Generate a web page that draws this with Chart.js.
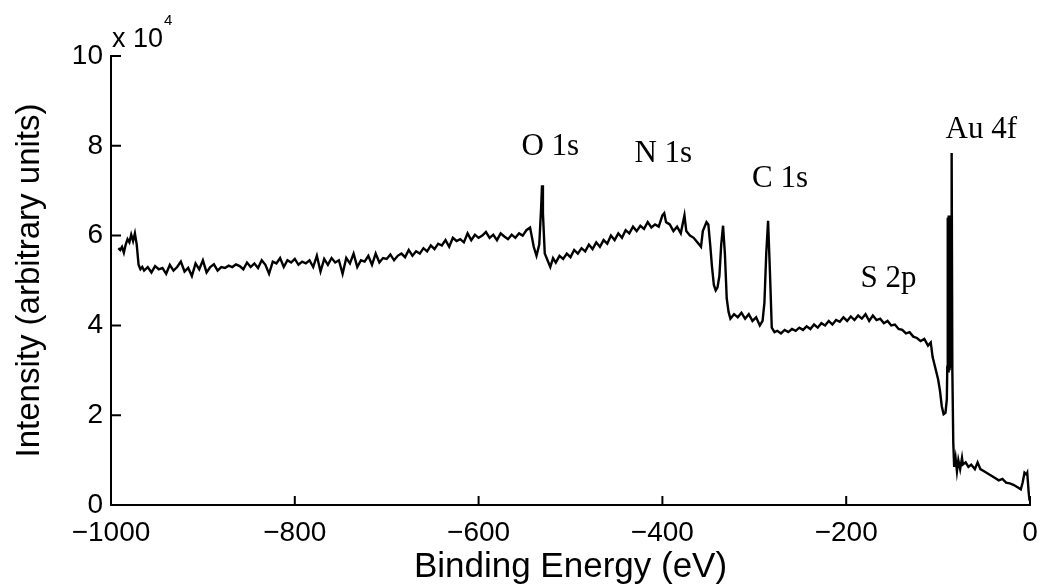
<!DOCTYPE html>
<html>
<head>
<meta charset="utf-8">
<script src="https://cdn.jsdelivr.net/npm/chart.js@4.4.1/dist/chart.umd.min.js"></script>
<style>
  html, body { margin: 0; padding: 0; background: #fff; }
  #wrap { width: 1042px; height: 588px; }
</style>
</head>
<body>
<div id="wrap"><canvas id="xpsChart" width="1042" height="588"></canvas></div>
<script>
// XPS survey spectrum, intensity in units of 10^4
const energy = [
  -992, -990, -988, -986, -984, -982, -980, -978, -976, -974, -972, -970, -968, -966,
  -964, -960, -956, -952, -948, -944, -940, -936, -932, -928, -924, -920, -916, -912, -908, -904,
  -900, -896, -892, -888, -884, -880, -876, -872, -868, -864, -860, -856, -852, -848, -844, -840,
  -836, -832, -828, -824, -820, -816, -812, -808, -804, -800, -796, -792, -788, -784, -780, -776,
  -772, -768, -764, -760, -756, -752, -748, -744, -740, -736, -732, -728, -724, -720, -716, -712,
  -708, -704, -700, -696, -692, -688, -684, -680, -676, -672, -668, -664, -660, -656, -652, -648,
  -644, -640, -636, -632, -628, -624, -620, -616, -612, -608, -604, -600,
  -596, -592, -588, -584, -580, -576, -572, -568, -564, -560, -556, -552, -548, -544, -540, -537,
  -534, -532, -531, -530, -528, -525, -522, -519, -516, -512, -508, -504, -500, -496, -492, -488,
  -484, -480, -476, -472, -468, -464, -460, -456, -452, -448, -444, -440, -436, -432, -428, -424,
  -420, -416, -412, -408, -404, -400, -398, -396, -392, -388, -384, -380, -376, -374, -370, -366,
  -362, -358, -356, -352, -350, -348, -346, -344, -342, -340, -338, -336, -334, -332, -330, -328,
  -326, -322, -318, -314, -310, -306, -302, -298, -294, -291, -289, -287, -285, -283, -281, -278,
  -275, -271, -267, -263, -259, -255, -251, -247, -243, -239, -235, -231, -227, -223, -219, -215,
  -211, -207, -203, -199, -195, -191, -187, -183, -179, -175, -171, -167, -163, -159, -155, -151,
  -147, -143, -139, -135, -131, -127, -123, -119, -115, -111, -108, -106, -103, -100, -98, -96,
  -94, -92, -90.5, -90, -89.75, -89.5, -89.25, -89, -88.75, -88.5, -88.25, -88, -87.75, -87.5, -87.25,
  -87, -86.75, -86.5, -86.25, -86, -85.75, -85.5, -85.25, -85, -84.5, -83.5, -82.5,
  -81, -79.5, -78, -76, -74, -73, -70, -67, -64, -60, -57, -54, -50, -46, -42, -38,
  -34, -30, -26, -22, -18, -14, -10, -8, -6, -4, -3, -1.5, -0.5
];
const intensity = [
  5.72, 5.68, 5.75, 5.62, 5.80, 5.92, 5.85, 6.02, 5.88, 6.05, 5.80, 5.35, 5.25, 5.30,
  5.22, 5.30, 5.18, 5.32, 5.25, 5.28, 5.15, 5.35, 5.22, 5.30, 5.42, 5.20, 5.28, 5.10, 5.38, 5.25,
  5.45, 5.18, 5.30, 5.36, 5.22, 5.30, 5.28, 5.33, 5.30, 5.36, 5.32, 5.25, 5.40, 5.30, 5.38, 5.28,
  5.45, 5.35, 5.15, 5.42, 5.38, 5.50, 5.30, 5.45, 5.40, 5.48, 5.35, 5.42, 5.38, 5.45, 5.30, 5.55,
  5.20, 5.48, 5.35, 5.50, 5.40, 5.45, 5.15, 5.50, 5.38, 5.60, 5.30, 5.45, 5.42, 5.55, 5.35, 5.60,
  5.40, 5.50, 5.48, 5.58, 5.45, 5.55, 5.60, 5.52, 5.68, 5.55, 5.65, 5.60, 5.72, 5.65, 5.78, 5.70,
  5.82, 5.78, 5.90, 5.75, 5.95, 5.88, 5.92, 5.85, 6.05, 5.90, 6.02, 5.95,
  6.00, 6.08, 5.95, 6.02, 5.90, 6.05, 5.98, 5.92, 6.02, 5.95, 6.05, 6.00, 6.12, 6.18, 5.75, 5.55,
  5.80, 6.60, 7.12, 6.50, 5.60, 5.45, 5.30, 5.50, 5.40, 5.55, 5.48, 5.60, 5.52, 5.68, 5.60, 5.72,
  5.65, 5.80, 5.70, 5.85, 5.75, 5.90, 5.82, 6.00, 5.90, 6.05, 5.95, 6.12, 6.05, 6.20, 6.10, 6.22,
  6.15, 6.30, 6.18, 6.25, 6.20, 6.45, 6.50, 6.30, 6.25, 6.10, 6.20, 6.05, 6.45, 6.10, 6.00, 5.95,
  5.85, 5.75, 6.10, 6.30, 6.25, 5.80, 5.30, 4.90, 4.78, 4.85, 5.10, 5.80, 6.22, 5.60, 4.60, 4.30,
  4.15, 4.25, 4.18, 4.28, 4.15, 4.25, 4.10, 4.18, 4.00, 4.10, 4.50, 5.60, 6.33, 5.20, 3.95, 3.85,
  3.88, 3.82, 3.90, 3.85, 3.92, 3.88, 3.95, 3.90, 3.98, 3.92, 4.02, 3.95, 4.05, 4.00, 4.10, 4.02,
  4.12, 4.08, 4.18, 4.10, 4.20, 4.12, 4.22, 4.15, 4.25, 4.10, 4.22, 4.12, 4.15, 4.05, 4.10, 4.00,
  4.02, 3.92, 3.90, 3.82, 3.85, 3.75, 3.72, 3.65, 3.70, 3.55, 3.62, 3.30, 3.05, 2.80, 2.55, 2.20,
  2.02, 2.05, 2.35, 3.10, 6.30, 3.00, 6.40, 3.20, 6.35, 2.95, 6.45, 3.10, 6.40, 3.00, 6.35,
  3.20, 6.40, 3.05, 6.45, 3.30, 6.40, 3.10, 6.42, 7.84, 3.00, 1.40, 0.85,
  1.05, 0.75, 1.00, 0.80, 1.05, 0.90, 0.95, 0.85, 0.90, 0.80, 0.95, 0.80, 0.75, 0.70, 0.65, 0.60,
  0.55, 0.58, 0.50, 0.48, 0.45, 0.40, 0.35, 0.50, 0.72, 0.68, 0.72, 0.30, 0.10
];
const xTickValues = [-1000, -800, -600, -400, -200, 0];
const yTickValues = [0, 2, 4, 6, 8, 10];
const peakNames = ["O 1s", "N 1s", "C 1s", "S 2p", "Au 4f"];

// where the peak names sit (energy, intensity of the text baseline)
const peakLabelPos = [
  [-522, 7.80], [-399, 7.64], [-272, 7.08], [-154, 4.86], [-53, 8.17]
];

const sans = "'Liberation Sans', Arial, Helvetica, sans-serif";
const serif = "'Liberation Serif', 'Times New Roman', serif";

const points = energy.map((e, i) => ({ x: e, y: intensity[i] }));

const extras = {
  id: "extras",
  afterDatasetsDraw(chart) {
    const ctx = chart.ctx;
    const xs = chart.scales.x, ys = chart.scales.y;
    ctx.save();
    // inward tick marks
    ctx.strokeStyle = "#000";
    ctx.lineWidth = 2;
    ctx.beginPath();
    yTickValues.forEach(v => {
      const py = ys.getPixelForValue(v);
      ctx.moveTo(xs.left, py);
      ctx.lineTo(xs.left + 10, py);
    });
    xTickValues.forEach(v => {
      const px = xs.getPixelForValue(v);
      ctx.moveTo(px, ys.bottom);
      ctx.lineTo(px, ys.bottom - 9);
    });
    ctx.stroke();

    // peak names
    ctx.fillStyle = "#000";
    ctx.font = "31px " + serif;
    ctx.textAlign = "center";
    ctx.textBaseline = "alphabetic";
    peakNames.forEach((name, i) => {
      const [e, v] = peakLabelPos[i];
      ctx.fillText(name, xs.getPixelForValue(e), ys.getPixelForValue(v));
    });

    // axis multiplier
    ctx.textAlign = "left";
    ctx.font = "27px " + sans;
    const base = "x 10";
    ctx.fillText(base, xs.left + 1, ys.top - 9);
    const w = ctx.measureText(base).width;
    ctx.font = "15px " + sans;
    ctx.fillText("4", xs.left + 2 + w, ys.top - 31);
    ctx.restore();
  }
};

new Chart(document.getElementById("xpsChart"), {
  type: "line",
  data: {
    datasets: [{
      label: "Intensity",
      data: points,
      borderColor: "#000",
      borderWidth: 2.4,
      pointRadius: 0,
      tension: 0,
      fill: false
    }]
  },
  options: {
    responsive: false,
    animation: false,
    layout: { padding: { left: 0, top: 56, right: 12, bottom: 0 } },
    plugins: {
      legend: { display: false },
      tooltip: { enabled: false }
    },
    scales: {
      x: {
        type: "linear",
        min: -1000,
        max: 0,
        afterBuildTicks: s => { s.ticks = xTickValues.map(v => ({ value: v })); },
        afterFit: s => { s.height = 83; s.paddingLeft = 0; s.paddingRight = 0; },
        grid: { display: false, drawTicks: false },
        border: { display: true, color: "#000", width: 2 },
        ticks: {
          color: "#000",
          font: { family: sans, size: 28 },
          padding: 11,
          maxRotation: 0,
          callback: v => String(v).replace("-", "\u2212")
        },
        title: {
          display: true,
          text: "Binding Energy (eV)",
          color: "#000",
          font: { family: sans, size: 35 },
          padding: { top: 0, bottom: 0 }
        }
      },
      y: {
        min: 0,
        max: 10,
        afterBuildTicks: s => { s.ticks = yTickValues.map(v => ({ value: v })); },
        afterFit: s => { s.width = 111; s.paddingTop = 0; s.paddingBottom = 0; },
        grid: { display: false, drawTicks: false },
        border: { display: true, color: "#000", width: 2 },
        ticks: {
          color: "#000",
          font: { family: sans, size: 28 },
          padding: 8
        },
        title: {
          display: true,
          text: "Intensity (arbitrary units)",
          color: "#000",
          font: { family: sans, size: 33 },
          padding: { top: 10, bottom: 0 }
        }
      }
    }
  },
  plugins: [extras]
});
</script>
</body>
</html>
